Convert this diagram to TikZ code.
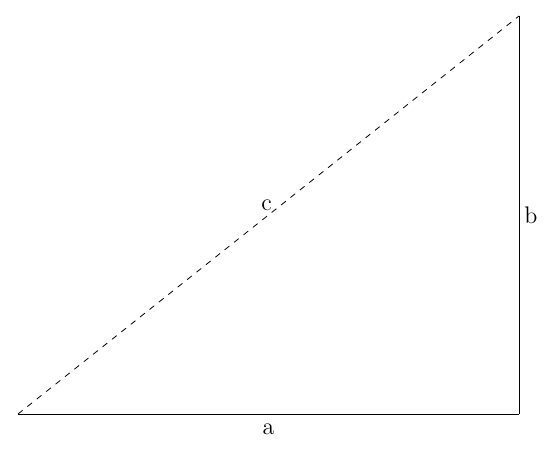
\documentclass[tikz,border=0pt]{standalone}
\usetikzlibrary{positioning}

\def\sidea{501}
\def\sideb{398}

\begin{document}
\begin{tikzpicture}[x=0.5pt,y=0.5pt,draw=black]
    \tikzstyle{corner}=[coordinate]
    \tikzstyle{leg}=[line width=0.4pt]
    \tikzstyle{hyp}=[leg, dashed]
    \tikzstyle{annot}=[inner sep=2pt, font=\large]

    \useasboundingbox (0,0) rectangle (556,450);

    % Corners of the triangle
    \node[corner] (A) at (18,36) {};
    \node[corner] (B) at (18+\sidea,36) {};
    \node[corner] (C) at (18+\sidea,36+\sideb) {};

    % Draw the two legs and the hypotenuse
    \draw[leg] (A) -- (B) node[annot, midway, below, yshift=-2.5pt] (la) {a};
    \draw[leg] (B) -- (C) node[annot, midway, right, xshift=0.5pt] (lb) {b};
    \draw[hyp] (A) -- (C) node[annot, midway, above, xshift=-1pt] (lc) {c};
\end{tikzpicture}
\end{document}
